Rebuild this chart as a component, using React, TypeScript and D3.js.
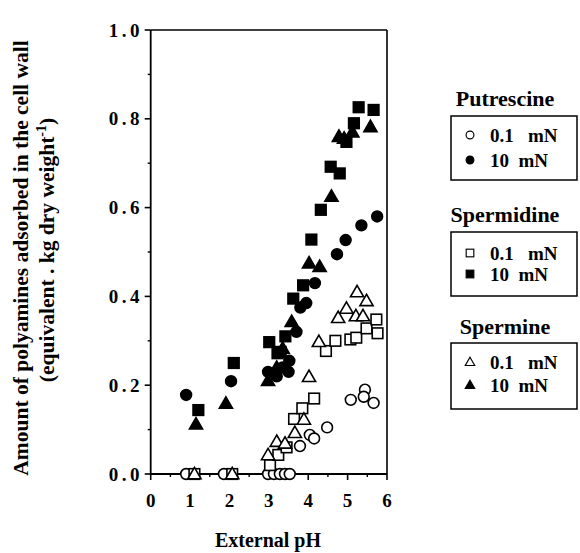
import React from "react";
import * as d3 from "d3";

type Pt = [number, number];

const putLow: Pt[] = [[0.9,0],[1.86,0],[2.98,0],[3.13,0],[3.28,0],[3.41,0],[3.53,0],[3.79,0.063],[4.04,0.088],[4.15,0.08],[4.48,0.105],[5.08,0.167],[5.44,0.19],[5.41,0.174],[5.66,0.16]];
const putHigh: Pt[] = [[0.9,0.178],[2.04,0.209],[2.98,0.23],[3.2,0.22],[3.35,0.24],[3.5,0.23],[3.52,0.255],[3.7,0.32],[3.8,0.375],[3.95,0.385],[4.17,0.43],[4.73,0.495],[4.95,0.527],[5.35,0.56],[5.75,0.58]];
const spdLow: Pt[] = [[1.11,0],[2.07,0],[3.03,0.02],[3.24,0.043],[3.45,0.06],[3.64,0.124],[3.85,0.148],[4.15,0.17],[4.45,0.277],[4.69,0.3],[5.07,0.303],[5.22,0.307],[5.48,0.328],[5.73,0.348],[5.76,0.317]];
const spdHigh: Pt[] = [[1.21,0.144],[2.11,0.25],[3.01,0.297],[3.22,0.272],[3.3,0.275],[3.42,0.31],[3.62,0.395],[3.87,0.425],[4.08,0.528],[4.32,0.595],[4.57,0.692],[4.8,0.677],[4.97,0.748],[5.16,0.79],[5.28,0.826],[5.66,0.82]];
const spmLow: Pt[] = [[1.11,0],[2.07,0],[2.98,0.043],[3.2,0.073],[3.41,0.069],[3.66,0.093],[3.89,0.123],[4.02,0.219],[4.27,0.298],[4.76,0.352],[4.97,0.373],[5.24,0.41],[5.48,0.39],[5.21,0.356],[5.39,0.356]];
const spmHigh: Pt[] = [[1.15,0.112],[1.91,0.159],[2.98,0.21],[3.2,0.24],[3.35,0.283],[3.58,0.343],[4.02,0.475],[4.29,0.467],[4.59,0.625],[4.78,0.76],[4.91,0.756],[5.12,0.77],[5.58,0.782]];

const xTicks = [0, 1, 2, 3, 4, 5, 6];
const yTicks = [0, 0.2, 0.4, 0.6, 0.8, 1.0];
const xMinor = [0.5, 1.5, 2.5, 3.5, 4.5, 5.5];
const yMinor = [0.1, 0.3, 0.5, 0.7, 0.9];

const legendGroups = ["Putrescine", "Spermidine", "Spermine"];
const legendLabels = ["0.1   mN", "10  mN"];

const FONT = "'Liberation Serif', 'Times New Roman', serif";

function Marker({ shape, filled, x, y, s = 1 }: { shape: string; filled: boolean; x: number; y: number; s?: number }) {
  const fill = filled ? "#000" : "#fff";
  const sw = 1.6 * s;
  if (shape === "circle") return <circle cx={x} cy={y} r={5.4 * s} fill={fill} stroke="#000" strokeWidth={sw} />;
  if (shape === "square") {
    const h = 5.3 * s;
    return <rect x={x - h} y={y - h} width={2 * h} height={2 * h} fill={fill} stroke="#000" strokeWidth={sw} />;
  }
  const sym = d3.symbol().type(d3.symbolTriangle).size(75 * s * s)();
  return <path d={sym || ""} transform={`translate(${x},${y + 1 * s})`} fill={fill} stroke="#000" strokeWidth={sw} strokeLinejoin="miter" />;
}

export default function App() {
  const x = d3.scaleLinear().domain([0, 6]).range([150.7, 387]);
  const y = d3.scaleLinear().domain([0, 1]).range([474, 30]);

  const series: { data: Pt[]; shape: string; filled: boolean }[] = [
    { data: putLow, shape: "circle", filled: false },
    { data: spdLow, shape: "square", filled: false },
    { data: spmLow, shape: "triangle", filled: false },
    { data: putHigh, shape: "circle", filled: true },
    { data: spdHigh, shape: "square", filled: true },
    { data: spmHigh, shape: "triangle", filled: true },
  ];

  const shapes = ["circle", "square", "triangle"];
  const boxes = [
    { titleY: 106, top: 116, bottom: 180, rows: [135, 160] },
    { titleY: 222, top: 232, bottom: 296, rows: [253, 274] },
    { titleY: 334, top: 343, bottom: 409, rows: [362, 385] },
  ];

  return (
    <svg width={580} height={553} style={{ position: "absolute", left: 0, top: 0, display: "block", background: "#fff" }} fontFamily={FONT}>
      <g>
        <line x1={x(0)} x2={x(6)} y1={y(1)} y2={y(1)} stroke="#000" strokeWidth={1.6} />
        <line x1={x(6)} x2={x(6)} y1={y(0)} y2={y(1)} stroke="#000" strokeWidth={1.6} />
        <line x1={x(0)} x2={x(0)} y1={y(0)} y2={y(1)} stroke="#000" strokeWidth={1.8} />
        <line x1={x(0)} x2={x(6)} y1={y(0)} y2={y(0)} stroke="#000" strokeWidth={1.8} />
        {yTicks.map((t) => (
          <g key={"yt" + t}>
            <line x1={x(0) - 6} x2={x(0)} y1={y(t)} y2={y(t)} stroke="#000" strokeWidth={1.6} />
            <text x={143} y={y(t)} dy="0.35em" textAnchor="end" fontSize={19} fontWeight="bold" letterSpacing={3.5}>
              {t.toFixed(1)}
            </text>
          </g>
        ))}
        {yMinor.map((t) => (
          <line key={"ym" + t} x1={x(0) - 3} x2={x(0)} y1={y(t)} y2={y(t)} stroke="#000" strokeWidth={1.4} />
        ))}
        {xTicks.map((t) => (
          <g key={"xt" + t}>
            <line x1={x(t)} x2={x(t)} y1={y(0)} y2={y(0) + 6} stroke="#000" strokeWidth={1.6} />
            <text x={x(t)} y={507} textAnchor="middle" fontSize={19} fontWeight="bold">
              {t}
            </text>
          </g>
        ))}
        {xMinor.map((t) => (
          <line key={"xm" + t} x1={x(t)} x2={x(t)} y1={y(0)} y2={y(0) + 3} stroke="#000" strokeWidth={1.4} />
        ))}
      </g>

      {series.map((s, i) => (
        <g key={"s" + i}>
          {s.data.map((d, j) => (
            <Marker key={j} shape={s.shape} filled={s.filled} x={x(d[0])} y={y(d[1])} />
          ))}
        </g>
      ))}

      <text x={268} y={547} textAnchor="middle" fontSize={20} fontWeight="bold">External pH</text>

      <text transform="translate(20,258) rotate(-90)" textAnchor="middle" dy="0.35em" fontSize={21.5} fontWeight="bold">
        Amount of polyamines adsorbed in the cell wall
      </text>
      <text transform="translate(46,250) rotate(-90)" textAnchor="middle" dy="0.35em" fontSize={21.5} fontWeight="bold">
        (equivalent . kg dry weight<tspan dy="-8" fontSize={14}>-1</tspan><tspan dy="8">)</tspan>
      </text>

      {legendGroups.map((g, i) => {
        const b = boxes[i];
        return (
          <g key={g}>
            <text x={505} y={b.titleY} textAnchor="middle" fontSize={22} fontWeight="bold">{g}</text>
            <rect x={451} y={b.top} width={126} height={b.bottom - b.top} fill="none" stroke="#000" strokeWidth={1.5} />
            {legendLabels.map((l, k) => (
              <g key={l}>
                <Marker shape={shapes[i]} filled={k === 1} x={470} y={b.rows[k]} s={0.72} />
                <text x={490} y={b.rows[k]} dy="0.35em" fontSize={19} fontWeight="bold" style={{ whiteSpace: "pre" }}>
                  {l}
                </text>
              </g>
            ))}
          </g>
        );
      })}
    </svg>
  );
}
